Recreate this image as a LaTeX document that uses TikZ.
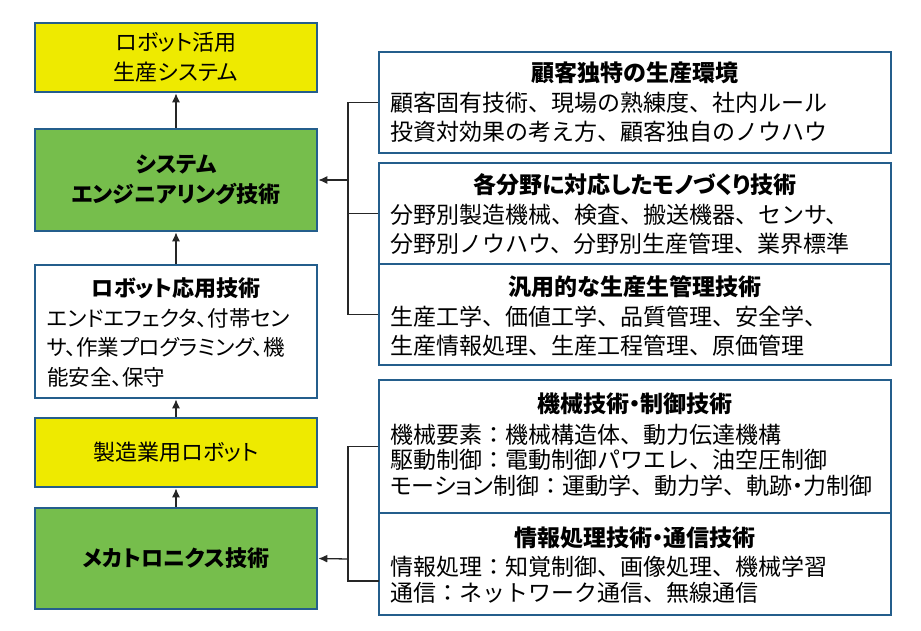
\documentclass[tikz,border=0pt]{standalone}
\usepackage{fontspec}
\setmainfont{Noto Sans CJK JP}[RawFeature=+palt]
\newfontfamily\fullw{Noto Sans CJK JP}
\newcommand{\pk}[1]{{\addfontfeature{RawFeature=+palt}#1}}
\usetikzlibrary{arrows.meta}
\definecolor{bord}{RGB}{36,94,140}
\definecolor{yel}{RGB}{238,234,0}
\definecolor{grn}{RGB}{118,190,76}
\tikzset{
  box/.style={draw=bord, line width=2.6pt, inner sep=0pt},
  lbox/.style={box, minimum width=282pt, align=center, font=\fontsize{22}{30}\selectfont},
  rbox/.style={box, minimum width=512pt, minimum height=101pt},
  txt/.style={inner sep=0pt, align=left, font=\fullw\fontsize{23}{29}\selectfont},
  txtd/.style={inner sep=0pt, align=left, font=\fullw\fontsize{23}{25.5}\selectfont},
  ttl/.style={inner sep=0pt, font=\fontsize{23}{29}\selectfont\bfseries},
  conn/.style={line width=1.3pt, black!85},
  arr/.style={conn, -{Latex[length=9pt,width=8pt]}}
}
\begin{document}
\begin{tikzpicture}[x=1pt,y=-1pt]
\useasboundingbox (0,0) rectangle (921,631);
% left column
\node[lbox, fill=yel, minimum height=69pt] (L1) at (176,57.5) {ロボット活用\\生産システム};
\node[lbox, fill=grn, minimum height=102pt, font=\fontsize{22}{30}\selectfont\bfseries] (L2) at (176,180) {システム\\エンジニアリング技術};
\node[lbox, minimum height=133pt] (L3) at (176,331.5) {};
\node[ttl, font=\fontsize{22}{30}\selectfont\bfseries] (L3t) at (176,288) {ロボット応用技術};
\node[inner sep=0pt, align=left, anchor=west, font=\fontsize{21.5}{29.5}\selectfont] (L3b) at (47,347.5) {エンドエフェクタ、付帯セン\\サ、作業プログラミング、機\\能安全、保守};
\node[lbox, fill=yel, minimum height=69pt] (L4) at (176,452.5) {製造業用ロボット};
\node[lbox, fill=grn, minimum height=101pt, font=\fontsize{22}{30}\selectfont\bfseries] (L5) at (176,558.5) {メカトロニクス技術};
% right column
\node[rbox] (A) at (635,102.5) {};
\node[ttl] (At) at (635,73) {顧客独特の生産環境};
\node[txt, anchor=west] (Ab) at (390,117.5) {顧客固有技術、現場の熟練度、社内ルール\\投資対効果の考え方、顧客独自のノウハウ};
\node[rbox] (B) at (635,213.5) {};
\node[ttl] (Bt) at (635,185) {各分野に対応したモノづくり技術};
\node[txt, anchor=west] (Bb) at (390,229) {分野別製造機械、検査、搬送機器、センサ、\\分野別ノウハウ、分野別生産管理、業界標準};
\node[rbox] (C) at (635,314.5) {};
\node[ttl] (Ct) at (635,287) {汎用的な生産生管理技術};
\node[txt, anchor=west] (Cb) at (390,331) {生産工学、価値工学、品質管理、安全学、\\生産情報処理、生産工程管理、原価管理};
\node[rbox, minimum height=133pt] (D1) at (635,446.5) {};
\node[ttl] (D1t) at (635,404) {機械技術・制御技術};
\node[txtd, anchor=west] (D1b) at (390,460) {機械要素：機械構造体、動力伝達機構\\駆動制御：電動制御パワエレ、油空圧制御\\\pk{モーション}制御：運動学、動力学、軌跡\pk{・}力制御};
\node[rbox, minimum height=102pt] (D2) at (635,564) {};
\node[ttl] (D2t) at (635,538) {情報処理技術・通信技術};
\node[txtd, anchor=west] (D2b) at (390,579.5) {情報処理：知覚制御、画像処理、機械学習\\通信：ネットワーク通信、無線通信};
% vertical arrows
\draw[arr] (L2.north) -- (L1.south);
\draw[arr] (L3.north) -- (L2.south);
\draw[arr] (L4.north) -- (L3.south);
\draw[arr] (L5.north) -- (L4.south);
% top bracket
\coordinate (jt) at (348,180);
\draw[conn] (A.west) -- (A.west -| jt) -- (C.west -| jt) -- (C.west);
\draw[conn] (B.west) -- (B.west -| jt);
\draw[arr] (jt) -- (L2.east);
% bottom bracket
\coordinate (jb) at (348,559);
\coordinate (d2c) at (379,581);
\draw[conn] (D1.west) -- (D1.west -| jb) -- (d2c -| jb) -- (d2c);
\draw[arr] (jb) -- (L5.east);
\end{tikzpicture}
\end{document}
